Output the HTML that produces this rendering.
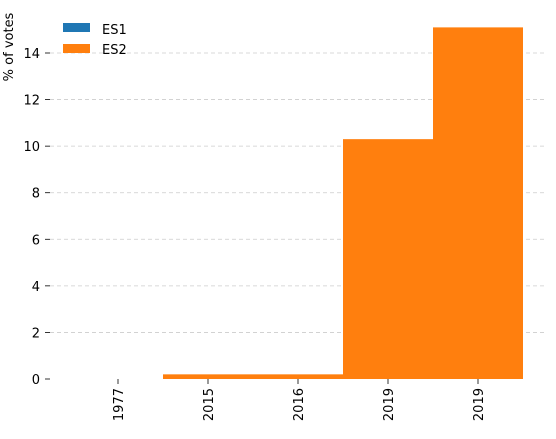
<!DOCTYPE html>
<html><head><meta charset="utf-8"><style>
body{margin:0;background:#fff;}
svg{font-family:"DejaVu Sans","Liberation Sans",sans-serif;}
</style></head><body>
<svg id="chart" width="556" height="434">
<g id="grid"></g>
<g id="bars"></g>
<g id="yaxis"></g>
<g id="xaxis"></g>
<text transform="translate(13,47) rotate(-90)" text-anchor="middle" font-size="13">% of votes</text>
<g>
<rect x="63" y="23" width="27" height="9" fill="#1f77b4"/>
<text x="102" y="34" font-size="13">ES1</text>
<rect x="63" y="44" width="27" height="9" fill="#ff7f0e"/>
<text x="102" y="54" font-size="13">ES2</text>
</g>
</svg>
<script>
const categories=["1977","2015","2016","2019","2019"];
const es1Values=[0,0,0,0,0];
const es2Values=[0,0.2,0.2,10.3,15.1];
const yTicks=[0,2,4,6,8,10,12,14];
const NS="http://www.w3.org/2000/svg";
function y(v){return 379-v*(326/14);}
function x(i){return 118+i*90;}
const bw=90;
function mk(tag,attrs,parent){const e=document.createElementNS(NS,tag);for(const k in attrs)e.setAttribute(k,attrs[k]);document.getElementById(parent).appendChild(e);return e;}
yTicks.forEach(t=>{
  if(t>0){const g=mk('line',{x1:50,x2:545,y1:y(t),y2:y(t),stroke:'#ccc','stroke-dasharray':'4,3','stroke-width':0.8},'grid');
  
  }
  const tk=mk('line',{x1:45,x2:50,y1:y(t),y2:y(t),stroke:'#000','stroke-width':0.8},'yaxis');
  
  
  const tx=mk('text',{x:40,y:y(t)+5,'text-anchor':'end','font-size':13},'yaxis');
  tx.textContent=t;
  
  
});
categories.forEach((c,i)=>{
  [[es1Values,'#1f77b4'],[es2Values,'#ff7f0e']].forEach(([arr,col])=>{
    const v=arr[i]; if(v<=0) return;
    const r=mk('rect',{x:x(i)-bw/2,y:y(v),width:bw,height:y(0)-y(v),fill:col},'bars');
    
    
  });
  const tk=mk('line',{x1:x(i),x2:x(i),y1:379,y2:384,stroke:'#000','stroke-width':0.8},'xaxis');
  
  
  const tx=mk('text',{transform:`translate(${x(i)+5},388) rotate(-90)`,'text-anchor':'end','font-size':13},'xaxis');
  tx.textContent=c;
  
  
});
</script>
</body></html>
